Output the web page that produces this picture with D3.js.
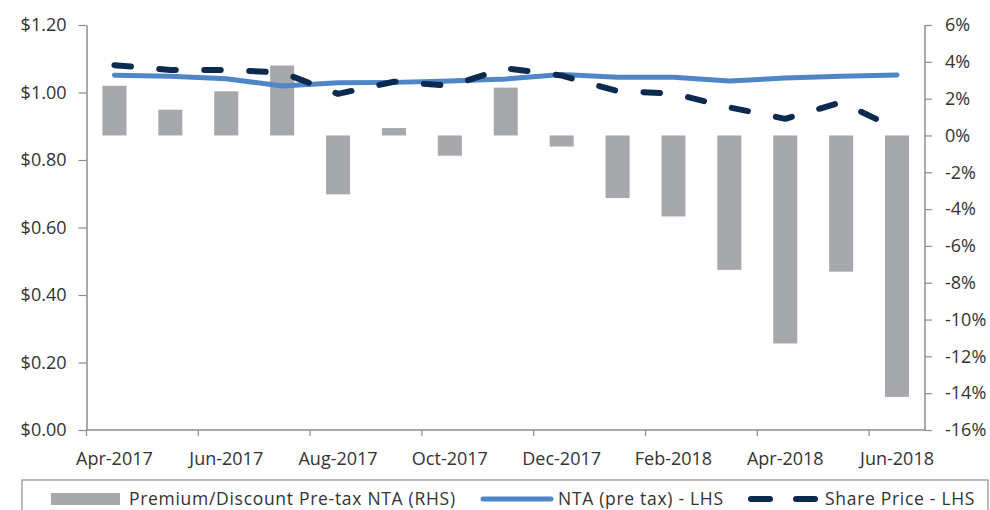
<!DOCTYPE html>
<html>
<head>
<meta charset="utf-8">
<script src="https://cdn.jsdelivr.net/npm/d3@7/dist/d3.min.js"></script>
<style>
  html, body { margin: 0; padding: 0; background: #fff; }
  svg { display: block; }
  text { font-family: "Open Sans", "Noto Sans", sans-serif; fill: #333; }
</style>
</head>
<body>
<svg id="chart" width="990" height="510"></svg>
<script>
// Monthly categories
const months = ["Apr-2017","May-2017","Jun-2017","Jul-2017","Aug-2017","Sep-2017","Oct-2017",
                "Nov-2017","Dec-2017","Jan-2018","Feb-2018","Mar-2018","Apr-2018","May-2018","Jun-2018"];
// Premium / discount of share price to pre-tax NTA, in percent (right axis)
const premiumDiscount = [2.7, 1.4, 2.4, 3.8, -3.2, 0.4, -1.1, 2.6, -0.6, -3.4, -4.4, -7.3, -11.3, -7.4, -14.2];
// NTA (pre tax), dollars (left axis)
const ntaPreTax = [1.051, 1.048, 1.041, 1.019, 1.029, 1.030, 1.034, 1.040, 1.053, 1.045, 1.045, 1.034, 1.043, 1.048, 1.052];
// Share price, dollars (left axis)
const sharePrice = [1.081, 1.067, 1.067, 1.059, 0.996, 1.032, 1.020, 1.072, 1.050, 1.004, 0.997, 0.956, 0.922, 0.971, 0.892];
// Axis ticks
const leftTicks = [0, 0.2, 0.4, 0.6, 0.8, 1.0, 1.2];
const rightTicks = [-16, -14, -12, -10, -8, -6, -4, -2, 0, 2, 4, 6];
const xTickLabels = ["Apr-2017","Jun-2017","Aug-2017","Oct-2017","Dec-2017","Feb-2018","Apr-2018","Jun-2018"];
// Legend labels
const legendLabels = ["Premium/Discount Pre-tax NTA (RHS)", "NTA (pre tax) - LHS", "Share Price - LHS"];

const colors = { bar: "#a6a8ab", nta: "#4f86c8", price: "#0c2a50", axis: "#8c8c8c" };

const svg = d3.select("#chart");
const plot = { left: 86.5, right: 925, top: 25, bottom: 430 };

const pad = 0.57;
const x = d3.scaleBand().domain(months).range([plot.left, plot.right])
  .paddingInner(pad).paddingOuter(pad / 2);
const step = x.step();
const cx = m => x(m) + x.bandwidth() / 2;

const yL = d3.scaleLinear().domain([0, 1.2]).range([plot.bottom, plot.top]);
const yR = d3.scaleLinear().domain([-16, 6]).range([plot.bottom, plot.top]);

// Bars (right axis)
svg.append("g").selectAll("rect").data(months).join("rect")
  .attr("x", m => x(m))
  .attr("width", x.bandwidth())
  .attr("y", (m, i) => yR(Math.max(0, premiumDiscount[i])))
  .attr("height", (m, i) => Math.abs(yR(premiumDiscount[i]) - yR(0)))
  .attr("fill", colors.bar);

// Axes
const axisStyle = g => {
  g.select(".domain").attr("stroke", colors.axis).attr("stroke-width", 1.5);
  g.selectAll(".tick line").attr("stroke", colors.axis).attr("stroke-width", 1.2);
  g.selectAll(".tick text").attr("font-size", 18).attr("fill", "#333")
    .style("font-family", '"Open Sans", sans-serif');
};

svg.append("g").attr("transform", `translate(${plot.left},0)`)
  .call(d3.axisLeft(yL).tickValues(leftTicks).tickFormat(d => "$" + d.toFixed(2))
    .tickSize(8).tickPadding(12).tickSizeOuter(0))
  .call(axisStyle);

svg.append("g").attr("transform", `translate(${plot.right},0)`)
  .call(d3.axisRight(yR).tickValues(rightTicks).tickFormat(d => d + "%")
    .tickSize(7).tickPadding(13).tickSizeOuter(0))
  .call(axisStyle)
  .call(g => g.select(".domain").remove())
  .call(g => g.append("line").attr("x1", 0).attr("x2", 0)
    .attr("y1", plot.top).attr("y2", plot.bottom)
    .attr("stroke", colors.axis).attr("stroke-width", 1.5));

// Category axis: boundary ticks every two months, labels under categories
const xAxis = svg.append("g");
xAxis.append("line")
  .attr("x1", plot.left).attr("x2", plot.right)
  .attr("y1", plot.bottom).attr("y2", plot.bottom)
  .attr("stroke", colors.axis).attr("stroke-width", 1.5);
xAxis.selectAll("line.tk").data(months.filter((m, i) => i % 2 === 0)).join("line")
  .attr("class", "tk")
  .attr("x1", m => x(m) - step * pad / 2).attr("x2", m => x(m) - step * pad / 2)
  .attr("y1", plot.bottom).attr("y2", plot.bottom + 6)
  .attr("stroke", colors.axis).attr("stroke-width", 1.2);
xAxis.selectAll("text").data(xTickLabels).join("text")
  .attr("x", m => cx(m))
  .attr("y", 465)
  .attr("text-anchor", "middle")
  .attr("font-size", 18)
  .text(d => d);

// Lines (left axis)
const line = vals => d3.line().x((d, i) => cx(months[i])).y(d => yL(d))(vals);

svg.append("path").attr("d", line(ntaPreTax))
  .attr("fill", "none").attr("stroke", colors.nta).attr("stroke-width", 5)
  .attr("stroke-linejoin", "round").attr("stroke-linecap", "round");

svg.append("path").attr("d", line(sharePrice))
  .attr("fill", "none").attr("stroke", colors.price).attr("stroke-width", 6)
  .attr("stroke-dasharray", "16.5,28.5").attr("stroke-linecap", "round")
  .attr("stroke-linejoin", "round");

// Legend
const lg = svg.append("g");
lg.append("rect").attr("x", 22).attr("y", 480).attr("width", 966).attr("height", 40)
  .attr("fill", "#fff").attr("stroke", "#8c8c8c").attr("stroke-width", 1.2);
const ly = 499;
const legendText = (xPos, label) => lg.append("text")
  .attr("x", xPos).attr("y", ly).attr("dy", "0.35em")
  .attr("font-size", 17.5).attr("letter-spacing", 0.7).text(label);

lg.append("rect").attr("x", 51).attr("y", ly - 6).attr("width", 69).attr("height", 12)
  .attr("fill", colors.bar);
legendText(129, legendLabels[0]);
lg.append("line").attr("x1", 483).attr("x2", 551).attr("y1", ly).attr("y2", ly)
  .attr("stroke", colors.nta).attr("stroke-width", 5).attr("stroke-linecap", "round");
legendText(558, legendLabels[1]);
lg.append("line").attr("x1", 751).attr("x2", 815).attr("y1", ly).attr("y2", ly)
  .attr("stroke", colors.price).attr("stroke-width", 6)
  .attr("stroke-dasharray", "19,26").attr("stroke-linecap", "round");
legendText(825, legendLabels[2]);
</script>
</body>
</html>
